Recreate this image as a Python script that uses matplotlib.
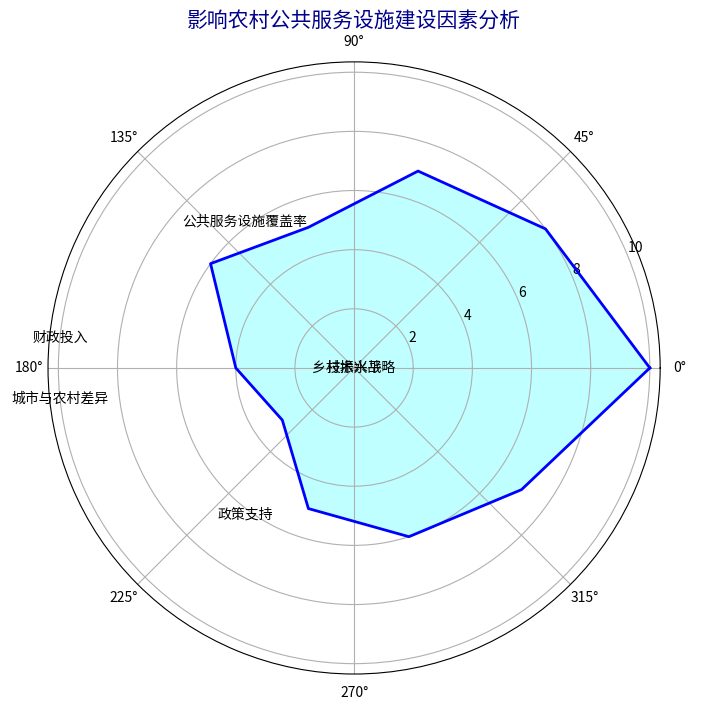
import numpy as np
import matplotlib
matplotlib.use('Agg')
import matplotlib.pyplot as plt

plt.rcParams['font.family'] = ['Noto Sans CJK SC', 'DejaVu Sans']
plt.rcParams['axes.unicode_minus'] = False

# ----- data -----
labels = ['乡村振兴战略', '公共服务设施覆盖率', '城市与农村差异', '财政投入', '政策支持',
          '技术水平', '人口结构', '交通条件', '社会参与', '地方治理']
values = [10, 8, 7, 5, 6, 4, 3, 5, 6, 7]
label_dist = 10.5

n = len(labels)
angles = np.linspace(0, 2*np.pi, n, endpoint=False)
vals = np.concatenate([values, values[:1]])
angs = np.concatenate([angles, angles[:1]])

fig = plt.figure(figsize=(7.02, 7.11), dpi=100)
ax = fig.add_axes([0.0684, 0.052, 0.872, 0.861], polar=True)
ax.fill(angs, vals, color='cyan', alpha=0.25)
ax.plot(angs, vals, color='blue', linewidth=2)

# labels placed the way the original did (cos/sin used as theta/r)
for a, lab in zip(angles, labels):
    ax.text(np.cos(a)*label_dist, np.sin(a)*label_dist, lab,
            ha='center', va='center', fontsize=10)

ax.set_title('影响农村公共服务设施建设因素分析', fontsize=15, color='darkblue')

fig.savefig('out.png', dpi=100)
